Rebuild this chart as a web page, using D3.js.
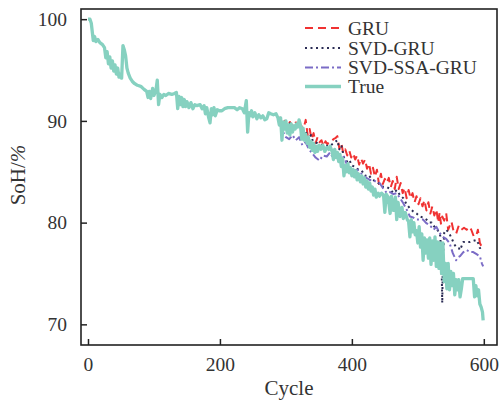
<!DOCTYPE html>
<html><head><meta charset="utf-8">
<script src="https://cdn.jsdelivr.net/npm/d3@7/dist/d3.min.js"></script>
<style>body{margin:0;background:#fff;} svg{display:block;}</style>
</head><body>
<script>
const xTicks = [0, 200, 400, 600];
const yTicks = [70, 80, 90, 100];
const seriesNames = ["GRU", "SVD-GRU", "SVD-SSA-GRU", "True"];

const trueCycles = [0,3,5,8,10,12,15,18,22,25,27,29,31,33,35,37,39,41,43,45,47,49,51,53,55,57,59,61,64,67,70,75,80,85,89,91,93,95,98,100,103,105,107,109,112,115,118,122,127,131,134,136,138,140,142,144,146,148,150,153,156,159,162,165,170,173,176,178,180,183,185,187,189,191,193,196,199,203,207,212,217,222,226,230,234,237,240,242,244,246,248,250,253,256,259,262,265,268,271,274,277,281,285,288,290,292,294,296,298,300,302,304,306,308,310,312,314,316,318,320,322,324,326,328,330,332,334,336,338,340,342,344,346,348,350,353,356,359,362,365,367,370,372,374,376,378,380,382,384,386,388,390,392,394,396,398,400,402,404,406,408,410,413,415,417,419,421,423,425,427,429,431,433,435,437,440,442,445,448,450,452,455,458,460,463,466,468,470,473,476,478,481,484,486,488,490,492,494,496,498,500,502,504,506,508,510,512,514,516,518,520,522,524,526,528,530,532,534,536,538,540,542,544,546,548,550,552,554,556,558,560,562,564,566,568,572,576,580,584,586,588,590,592,594,596,598,599];
const trueValues = [100,100,99.6,97.9,98.3,97.8,98.0,97.7,97.5,97.2,96.2,96.8,95.6,96.3,95.2,95.9,94.9,95.5,94.6,95.2,94.3,94.6,94.2,97.4,97.0,96.4,95.2,94.7,94.2,93.9,93.7,93.5,93.4,93.1,92.9,92.3,92.9,92.2,93.2,92.5,93.0,94.0,91.6,92.6,92.3,92.6,92.5,92.7,92.6,92.7,92.8,91.2,92.4,91.6,92.3,91.4,92.1,91.4,91.9,91.3,91.8,91.2,91.6,91.5,91.6,91.2,91.5,90.7,91.3,90.3,89.8,91.2,90.6,91.3,90.5,91.1,91.0,91.0,91.2,91.3,91.3,91.3,91.1,91.3,91.2,90.8,92.0,88.9,90.8,90.5,91.0,90.4,90.8,90.2,90.6,90.3,90.5,90.1,90.2,90.8,90.7,90.6,90.7,90.3,89.6,90.3,88.1,89.9,89.2,90.0,88.8,89.6,88.6,89.7,88.9,89.5,89.2,89.7,89.4,90.1,89.6,88.2,89.3,88.1,88.7,87.8,88.4,87.4,88.0,87.1,87.8,86.9,87.5,87.0,87.6,87.2,87.6,87.0,87.4,87.2,87.5,87.0,86.2,87.2,86.4,86.9,86.0,86.7,85.5,86.3,84.6,85.6,85.0,85.8,84.9,85.4,84.6,85.2,84.5,85.1,84.2,84.8,84.0,84.6,83.8,84.4,83.5,84.1,83.3,83.9,83.1,83.5,82.7,83.3,82.5,82.9,82.6,82.9,82.7,81.0,82.8,82.5,80.9,82.6,81.2,82.5,80.3,82.0,80.6,81.5,80.4,81.0,80.3,80.1,78.6,80.3,79.1,80.0,78.8,79.2,78.0,79.6,77.6,78.9,76.3,78.5,77.0,78.3,76.5,78.5,75.9,78.2,76.3,78.6,75.7,78.1,75.5,78.0,75.0,78.0,74.2,76.0,73.5,76.0,73.4,75.2,73.8,75.0,72.9,74.4,73.4,74.4,72.7,73.5,74.5,74.5,74.5,74.5,74.5,72.7,73.8,72.8,73.4,72.0,71.7,71.2,70.4];

const gruCycles = [290,294,298,302,306,310,314,318,322,326,330,333,336,339,342,345,348,351,354,357,360,363,366,369,372,375,378,381,384,387,390,393,396,399,402,405,408,411,414,417,420,423,426,429,432,435,438,441,444,447,450,453,456,459,462,465,468,471,474,477,480,483,486,489,492,495,498,501,504,507,510,513,516,519,522,525,528,531,533,535,537,540,543,546,549,551,554,558,562,566,570,574,578,581,585,589,591,594,597,599];
const gruValues = [90.4,89.6,90.0,89.3,89.9,89.5,90.0,89.4,89.8,89.0,90.1,88.6,89.2,88.2,88.8,87.8,88.4,87.9,88.1,87.5,88.0,87.7,88.0,88.0,88.2,88.3,88.5,87.3,87.8,86.8,87.2,86.6,87.1,86.4,86.8,86.2,86.6,85.7,86.3,85.8,86.2,85.3,85.8,84.8,85.4,84.5,85.2,83.8,84.8,83.8,84.3,83.9,84.4,83.5,84.1,83.3,84.5,83.3,83.9,82.9,83.4,82.4,83.2,82.4,82.9,82.0,82.6,81.8,82.4,81.6,82.2,81.2,82.0,80.9,81.6,80.7,81.3,80.0,81.0,79.9,80.6,80.2,80.9,79.3,79.8,80.1,79.2,78.9,79.7,79.3,79.5,79.3,79.6,79.3,78.6,78.8,79.3,78.0,77.6,77.8];

const svdGruCycles = [290,295,300,305,310,315,320,323,326,330,334,338,341,345,350,355,360,365,370,374,378,381,384,388,392,396,400,405,410,415,420,425,430,437,442,448,453,458,463,468,473,478,483,488,493,498,503,508,513,518,521,525,529,532,534,536,537,538,540,543,547,551,555,558,562,564,567,569,574,579,584,589,592,594,597,599];
const svdGruValues = [90.3,89.8,89.5,89.9,89.2,89.6,89.9,89.3,88.8,89.0,88.2,88.6,88.0,87.9,87.7,87.6,87.6,87.5,87.7,87.9,88.1,87.2,87.6,86.4,86.0,86.2,85.6,85.5,85.2,85.1,84.6,84.7,84.3,84.0,83.8,83.5,83.5,83.3,82.9,83.2,82.7,82.4,81.8,81.4,81.1,80.9,80.6,80.5,80.3,80.0,80.0,79.6,79.3,79.1,78.7,76.0,72.1,76.5,79.0,79.3,79.0,78.5,77.9,77.6,77.5,77.3,77.8,78.1,78.1,78.1,78.2,78.3,77.9,77.5,77.6,77.4];

const ssaCycles = [290,295,300,305,310,315,320,325,330,335,340,345,351,356,362,367,372,377,382,387,392,396,399,404,408,412,417,422,427,432,437,442,447,453,458,463,468,473,478,483,488,493,498,503,508,512,516,520,524,528,533,538,543,548,553,558,561,564,569,574,579,584,589,594,597,599];
const ssaValues = [89.9,89.0,88.4,88.2,88.6,88.1,88.4,87.6,87.9,87.2,86.8,86.4,86.1,86.6,86.5,86.9,86.3,86.6,86.5,86.6,85.8,85.0,84.8,85.1,85.2,84.9,84.7,84.4,84.2,84.2,84.0,83.9,83.4,82.9,83.0,82.8,82.9,82.4,81.9,81.3,80.6,80.5,80.3,80.3,80.3,80.0,79.8,79.6,79.3,79.6,79.0,78.6,78.4,78.0,77.0,76.3,76.6,76.7,77.1,77.3,77.1,77.1,76.9,76.7,76.0,75.7];

const W = 500, H = 401;
const L = 81, T = 9, R = 497, B = 345;
const svg = d3.select("body").append("svg").attr("width", W).attr("height", H);

const x = d3.scaleLinear().domain([-10.6, 620]).range([L, R]);
const y = d3.scaleLinear().domain([67.97, 101]).range([B, T]);

const styles = [
  {name: seriesNames[0], c: gruCycles, v: gruValues, color: "#f03232", width: 2, dash: "8,5"},
  {name: seriesNames[1], c: svdGruCycles, v: svdGruValues, color: "#2b2c55", width: 2, dash: "2,3.5"},
  {name: seriesNames[2], c: ssaCycles, v: ssaValues, color: "#7b6cc6", width: 2, dash: "8,3,2,3"},
  {name: seriesNames[3], c: trueCycles, v: trueValues, color: "#86d1c0", width: 3.3, dash: null}
];

const line = d3.line().x(d => x(d[0])).y(d => y(d[1]));
styles.forEach(s => {
  const pts = s.c.map((c, i) => [c, s.v[i]]);
  svg.append("path").datum(pts).attr("d", line)
    .attr("fill", "none").attr("stroke", s.color).attr("stroke-width", s.width)
    .attr("stroke-dasharray", s.dash).attr("stroke-linejoin", "round");
});

// frame
svg.append("rect").attr("x", L).attr("y", T).attr("width", R - L).attr("height", B - T)
  .attr("fill", "none").attr("stroke", "#222").attr("stroke-width", 1.6);

const font = "'Liberation Serif', 'Times New Roman', serif";
const xAxis = d3.axisBottom(x).tickValues(xTicks).tickSize(-6).tickPadding(12).tickFormat(d3.format("d"));
const gx = svg.append("g").attr("transform", `translate(0,${B})`).call(xAxis);
const yAxis = d3.axisLeft(y).tickValues(yTicks).tickSize(-6).tickPadding(14).tickFormat(d3.format("d"));
const gy = svg.append("g").attr("transform", `translate(${L},0)`).call(yAxis);
[gx, gy].forEach(g => {
  g.select(".domain").remove();
  g.selectAll(".tick line").attr("stroke", "#222").attr("stroke-width", 1.5);
  g.selectAll(".tick text").attr("font-family", font).attr("font-size", 19.5).attr("fill", "#333");
});

svg.append("text").attr("x", 289).attr("y", 395).attr("text-anchor", "middle")
  .attr("font-family", font).attr("font-size", 21).attr("fill", "#333").text("Cycle");

const yl = svg.append("text").attr("transform", "translate(25,175) rotate(-90)").attr("text-anchor", "middle")
  .attr("font-family", font).attr("font-size", 21).attr("fill", "#333");
yl.append("tspan").text("SoH/");
yl.append("tspan").attr("font-style", "italic").text("%");

// legend
const rowY = [28, 48, 67.5, 86.5];
styles.forEach((s, i) => {
  svg.append("line").attr("x1", 305).attr("x2", 341).attr("y1", rowY[i]).attr("y2", rowY[i])
    .attr("stroke", s.color).attr("stroke-width", s.width).attr("stroke-dasharray", s.dash);
  svg.append("text").attr("x", 348).attr("y", rowY[i]).attr("dy", "0.35em")
    .attr("font-family", font).attr("font-size", 19.5).attr("textLength", null).attr("fill", "#333").text(s.name);
});
</script>
</body></html>
